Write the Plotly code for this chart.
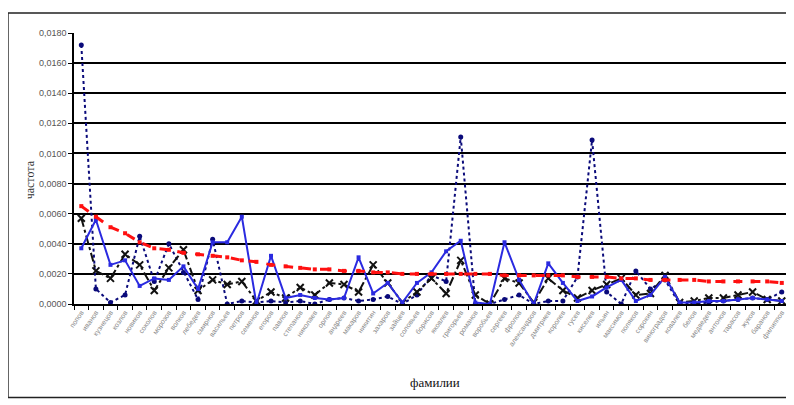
import plotly.graph_objects as go

surnames = ["попов","иванов","кузнецов","козлов","новиков","соколов","морозов","волков",
            "лебедев","смирнов","васильев","петров","семенов","егоров","павлов","степанов",
            "николаев","орлов","андреев","макаров","никитин","захаров","зайцев","соловьев",
            "борисов","яковлев","григорьев","романов","воробьев","сергеев","фролов","александров",
            "дмитриев","королев","гусев","киселев","ильин","максимов","поляков","сорокин",
            "виноградов","ковалев","белов","медведев","антонов","тарасов","жуков","баранов","филиппов"]

freq_dotted = [.0172, .0010, .0001, .0006, .0045, .0015, .0040, .0021, .0003, .0043,
               .0000, .0002, .0001, .0002, .0001, .0002, .0000, .0003, .0004, .0002,
               .0003, .0005, .0000, .0006, .0019, .0015, .0111, .0000, .0000, .0003,
               .0006, .0000, .0002, .0002, .0018, .0109, .0008, .0000, .0022, .0010,
               .0016, .0000, .0000, .0001, .0002, .0003, .0004, .0003, .0008]

freq_black = [.0057, .0022, .0017, .0033, .0026, .0009, .0024, .0036, .0009, .0016,
              .0013, .0015, .0002, .0008, .0004, .0011, .0006, .0014, .0013, .0008,
              .0026, .0014, .0001, .0008, .0017, .0007, .0029, .0006, .0000, .0017,
              .0014, .0001, .0017, .0009, .0004, .0009, .0013, .0017, .0006, .0007,
              .0019, .0001, .0002, .0004, .0004, .0006, .0008, .0003, .0002]

freq_solid = [.0037, .0056, .0026, .0029, .0012, .0017, .0016, .0025, .0010, .0041,
              .0041, .0058, .0000, .0032, .0004, .0006, .0004, .0003, .0004, .0031,
              .0007, .0014, .0001, .0014, .0021, .0035, .0042, .0001, .0000, .0041,
              .0016, .0000, .0027, .0014, .0002, .0005, .0011, .0016, .0002, .0006,
              .0018, .0001, .0001, .0002, .0002, .0003, .0004, .0003, .0002]

freq_red = [.0065, .0058, .0051, .0047, .0041, .0037, .0036, .0034, .0033, .0032,
            .0031, .0029, .0028, .0026, .0025, .0024, .0023, .0023, .0022, .0022,
            .0021, .0021, .0020, .0020, .0020, .0020, .0020, .0020, .0020, .0019,
            .0019, .0019, .0019, .0019, .0018, .0018, .0018, .0017, .0017, .0016,
            .0016, .0016, .0016, .0015, .0015, .0015, .0015, .0015, .0014]

y_ticks = [i * 0.002 for i in range(10)]

fig = go.Figure()
fig.add_trace(go.Scatter(x=surnames, y=freq_dotted, mode="lines+markers",
                         line=dict(color="#0a0a7a", width=2, dash="dot"),
                         marker=dict(symbol="circle", size=5, color="#0a0a7a")))
fig.add_trace(go.Scatter(x=surnames, y=freq_black, mode="lines+markers",
                         line=dict(color="#111111", width=2, dash="dashdot"),
                         marker=dict(symbol="x-thin", size=7, color="#111111",
                                     line=dict(width=2, color="#111111"))))
fig.add_trace(go.Scatter(x=surnames, y=freq_solid, mode="lines+markers",
                         line=dict(color="#2a2ae0", width=2),
                         marker=dict(symbol="square", size=4, color="#2a2ae0")))
fig.add_trace(go.Scatter(x=surnames, y=freq_red, mode="lines+markers",
                         line=dict(color="#ff1010", width=3, dash="dash"),
                         marker=dict(symbol="square", size=4, color="#ff1010")))

fig.update_layout(
    width=794, height=405,
    margin=dict(l=66, r=10, t=25, b=109),
    paper_bgcolor="white", plot_bgcolor="white",
    showlegend=False,
    separators=", ",
    font=dict(family="Liberation Sans", color="#555555"),
    xaxis=dict(type="category", tickangle=-55, tickfont=dict(size=7, color="#888888"),
               showgrid=False, showline=True, linecolor="black", linewidth=1.5,
               ticks="outside", ticklen=4, tickcolor="black", tickson="boundaries",
               range=[-0.5, 48.7]),
    yaxis=dict(range=[0, 0.018], tickvals=y_ticks, tickformat=".4f",
               tickfont=dict(size=9, color="#555555"),
               showgrid=True, gridcolor="#000000", gridwidth=1.5,
               showline=True, linecolor="black", linewidth=1.5,
               ticks="outside", ticklen=4, tickcolor="black", zeroline=False),
    annotations=[
        dict(text="частота", xref="paper", yref="paper", x=-0.061, y=0.457,
             xanchor="center", yanchor="middle",
             textangle=-90, showarrow=False,
             font=dict(family="Liberation Serif", size=12, color="#333333")),
        dict(text="фамилии", xref="paper", yref="paper", x=0.503, y=-0.288,
             xanchor="center", yanchor="middle",
             showarrow=False, font=dict(family="Liberation Serif", size=13, color="#111111")),
    ],
    shapes=[dict(type="rect", xref="paper", yref="paper", x0=-0.092, y0=-0.345,
                 x1=1.02, y1=1.074, line=dict(color="#222222", width=1.5))],
)

fig.write_html("out.html")
